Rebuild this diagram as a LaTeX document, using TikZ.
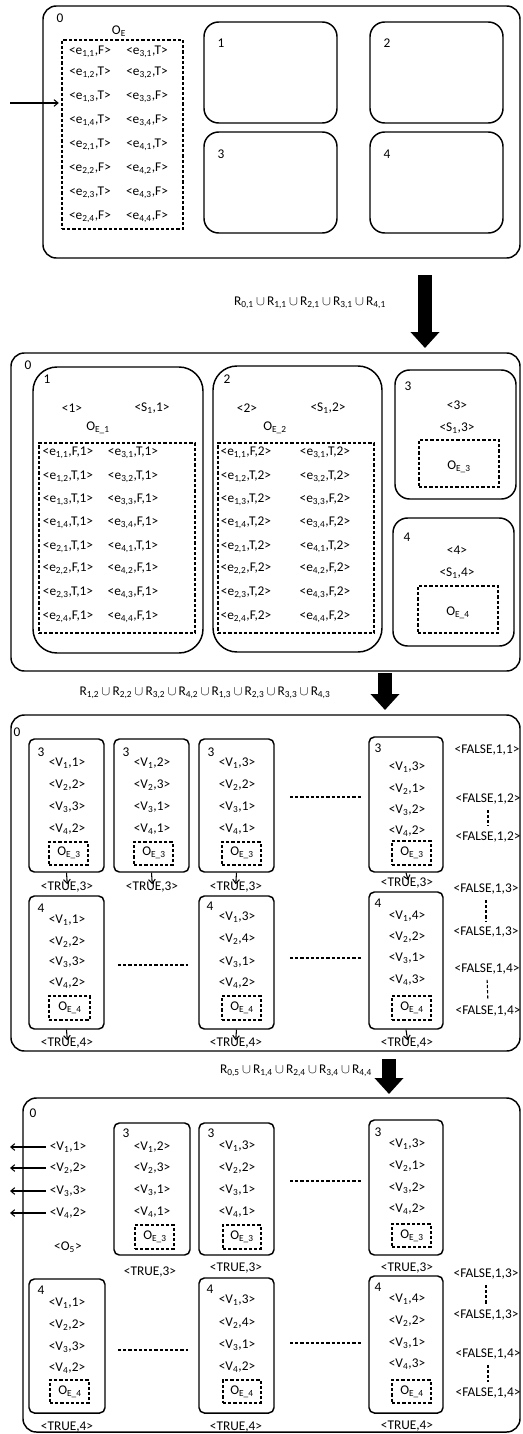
\documentclass[tikz,border=0pt]{standalone}
\usepackage{fontspec}
\setmainfont{Carlito}
\usetikzlibrary{fit,arrows.meta}

\begin{document}
\begin{tikzpicture}[x=0.75pt, y=-0.75pt,
  every node/.style={font=\fontsize{10}{12}\selectfont, inner sep=1pt},
  panelbox/.style={draw, line width=1.1pt, rounded corners=10pt, inner sep=0pt},
  subbox/.style={draw, line width=1.1pt, rounded corners=11pt, inner sep=0pt},
  vbox/.style={draw, line width=1.1pt, rounded corners=4pt, inner sep=0pt},
  obox/.style={draw, line width=0.8pt, dash pattern=on 2.4pt off 1.5pt, inner sep=0pt},
  dashline/.style={line width=0.8pt, dash pattern=on 2.4pt off 1.5pt},
  fatarrow/.style={line width=10pt, -{Triangle[width=21pt,length=12pt]}},
  smallarrow/.style={line width=0.8pt, -{Straight Barb[length=3pt,width=5pt]}}]

    \useasboundingbox (0,0) rectangle (522,1434);

    % panel 0 : start
    \node[panelbox, fit={(43,6) (520,258)}] (a0) {};
    \node (a0n) at (60,18) {0};
    \node (aoe) at (119,31) {O\textsubscript{E}};
    \node[obox, fit={(62,40) (183,229)}] (aoeb) {};
    \node (al1) at (90,52) {<e\textsubscript{1,1},F>};
    \node (al2) at (90,73) {<e\textsubscript{1,2},T>};
    \node (al3) at (90,97) {<e\textsubscript{1,3},T>};
    \node (al4) at (90,121) {<e\textsubscript{1,4},T>};
    \node (al5) at (90,145) {<e\textsubscript{2,1},T>};
    \node (al6) at (90,169) {<e\textsubscript{2,2},F>};
    \node (al7) at (90,193) {<e\textsubscript{2,3},T>};
    \node (al8) at (90,217) {<e\textsubscript{2,4},F>};
    \node (ar1) at (147,52) {<e\textsubscript{3,1},T>};
    \node (ar2) at (147,73) {<e\textsubscript{3,2},T>};
    \node (ar3) at (147,97) {<e\textsubscript{3,3},F>};
    \node (ar4) at (147,121) {<e\textsubscript{3,4},F>};
    \node (ar5) at (147,145) {<e\textsubscript{4,1},T>};
    \node (ar6) at (147,169) {<e\textsubscript{4,2},F>};
    \node (ar7) at (147,193) {<e\textsubscript{4,3},F>};
    \node (ar8) at (147,217) {<e\textsubscript{4,4},F>};
    \coordinate (ain) at (10,103);
    \draw[smallarrow, shorten >=2pt] (ain) -- (aoeb.west |- ain);

    \node[subbox, fit={(204,22) (337,123)}] (as1) {};
    \node[subbox, fit={(370,22) (503,123)}] (as2) {};
    \node[subbox, fit={(204,132) (337,233)}] (as3) {};
    \node[subbox, fit={(370,132) (503,233)}] (as4) {};
    \node (as1n) at (221,43) {1};
    \node (as2n) at (387,43) {2};
    \node (as3n) at (221,154) {3};
    \node (as4n) at (387,154) {4};

    \coordinate (f1s) at (425,275);
    \coordinate (f1e) at (425,348);
    \draw[fatarrow] (f1s) -- (f1e);
    \node (r1) at (310,303) {R\textsubscript{0,1}\,$\cup$\,R\textsubscript{1,1}\,$\cup$\,R\textsubscript{2,1}\,$\cup$\,R\textsubscript{3,1}\,$\cup$\,R\textsubscript{4,1}};

    % panel 1 : copies
    \node[panelbox, fit={(11,353) (520,671)}] (b0) {};
    \node (b0n) at (28,365) {0};

    \node[subbox, rounded corners=18pt, fit={(33,367) (203,653)}] (b1) {};
    \node (b1n) at (47,379) {1};
    \node (b1p) at (72,408) {<1>};
    \node (b1s) at (152,408) {<S\textsubscript{1},1>};
    \node (b1oe) at (98,428) {O\textsubscript{E\_1}};
    \node[obox, fit={(39,443) (195,633)}] (b1ob) {};
    \node (b1l1) at (68,453) {<e\textsubscript{1,1},F,1>};
    \node (b1l2) at (68,477) {<e\textsubscript{1,2},T,1>};
    \node (b1l3) at (68,500) {<e\textsubscript{1,3},T,1>};
    \node (b1l4) at (68,523) {<e\textsubscript{1,4},T,1>};
    \node (b1l5) at (68,547) {<e\textsubscript{2,1},T,1>};
    \node (b1l6) at (68,569) {<e\textsubscript{2,2},F,1>};
    \node (b1l7) at (68,593) {<e\textsubscript{2,3},T,1>};
    \node (b1l8) at (68,617) {<e\textsubscript{2,4},F,1>};
    \node (b1r1) at (133,453) {<e\textsubscript{3,1},T,1>};
    \node (b1r2) at (133,477) {<e\textsubscript{3,2},T,1>};
    \node (b1r3) at (133,500) {<e\textsubscript{3,3},F,1>};
    \node (b1r4) at (133,523) {<e\textsubscript{3,4},F,1>};
    \node (b1r5) at (133,547) {<e\textsubscript{4,1},T,1>};
    \node (b1r6) at (133,569) {<e\textsubscript{4,2},F,1>};
    \node (b1r7) at (133,593) {<e\textsubscript{4,3},F,1>};
    \node (b1r8) at (133,617) {<e\textsubscript{4,4},F,1>};

    \node[subbox, rounded corners=18pt, fit={(213,366) (382,652)}] (b2) {};
    \node (b2n) at (227,379) {2};
    \node (b2p) at (247,408) {<2>};
    \node (b2s) at (328,408) {<S\textsubscript{1},2>};
    \node (b2oe) at (275,428) {O\textsubscript{E\_2}};
    \node[obox, fit={(218,443) (374,633)}] (b2ob) {};
    \node (b2l1) at (246,453) {<e\textsubscript{1,1},F,2>};
    \node (b2l2) at (246,477) {<e\textsubscript{1,2},T,2>};
    \node (b2l3) at (246,500) {<e\textsubscript{1,3},T,2>};
    \node (b2l4) at (246,523) {<e\textsubscript{1,4},T,2>};
    \node (b2l5) at (246,547) {<e\textsubscript{2,1},T,2>};
    \node (b2l6) at (246,569) {<e\textsubscript{2,2},F,2>};
    \node (b2l7) at (246,593) {<e\textsubscript{2,3},T,2>};
    \node (b2l8) at (246,617) {<e\textsubscript{2,4},F,2>};
    \node (b2r1) at (325,453) {<e\textsubscript{3,1},T,2>};
    \node (b2r2) at (325,477) {<e\textsubscript{3,2},T,2>};
    \node (b2r3) at (325,500) {<e\textsubscript{3,3},F,2>};
    \node (b2r4) at (325,523) {<e\textsubscript{3,4},F,2>};
    \node (b2r5) at (325,547) {<e\textsubscript{4,1},T,2>};
    \node (b2r6) at (325,569) {<e\textsubscript{4,2},F,2>};
    \node (b2r7) at (325,593) {<e\textsubscript{4,3},F,2>};
    \node (b2r8) at (325,617) {<e\textsubscript{4,4},F,2>};

    \node[subbox, fit={(395,370) (516,499)}] (b3) {};
    \node (b3n) at (408,386) {3};
    \node (b3p) at (457,405) {<3>};
    \node (b3s) at (457,428) {<S\textsubscript{1},3>};
    \node[obox, fit={(419,440) (499,487)}] (b3ob) {};
    \node (b3oe) at (459,467) {O\textsubscript{E\_3}};

    \node[subbox, fit={(393,518) (514,646)}] (b4) {};
    \node (b4n) at (407,537) {4};
    \node (b4p) at (457,550) {<4>};
    \node (b4s) at (457,573) {<S\textsubscript{1},4>};
    \node[obox, fit={(418,586) (498,633)}] (b4ob) {};
    \node (b4oe) at (458,613) {O\textsubscript{E\_4}};

    \coordinate (f2s) at (385,673);
    \coordinate (f2e) at (385,710);
    \draw[fatarrow] (f2s) -- (f2e);
    \node (r2) at (205,693) {R\textsubscript{1,2}\,$\cup$\,R\textsubscript{2,2}\,$\cup$\,R\textsubscript{3,2}\,$\cup$\,R\textsubscript{4,2}\,$\cup$\,R\textsubscript{1,3}\,$\cup$\,R\textsubscript{2,3}\,$\cup$\,R\textsubscript{3,3}\,$\cup$\,R\textsubscript{4,3}};

    % panel 2 : assignments
    \node[panelbox, fit={(11,715) (520,1051)}] (c0) {};
    \node (c0n) at (17,732) {0};

    \node[vbox, fit={(29,739) (104,872)}] (cA) {};
    \node (cAn) at (41,752) {3};
    \node (cA1) at (67,763) {<V\textsubscript{1},1>};
    \node (cA2) at (67,785) {<V\textsubscript{2},2>};
    \node (cA3) at (67,807) {<V\textsubscript{3},3>};
    \node (cA4) at (67,829) {<V\textsubscript{4},2>};
    \node[obox, fit={(49,842) (88,865)}] (cAo) {};
    \node (cAoe) at (69,853) {O\textsubscript{E\_3}};
    \node (cAt) at (67,887) {<TRUE,3>};

    \node[vbox, fit={(114,739) (189,872)}] (cB) {};
    \node (cBn) at (126,752) {3};
    \node (cB1) at (152,763) {<V\textsubscript{1},2>};
    \node (cB2) at (152,785) {<V\textsubscript{2},3>};
    \node (cB3) at (152,807) {<V\textsubscript{3},1>};
    \node (cB4) at (152,829) {<V\textsubscript{4},1>};
    \node[obox, fit={(134,842) (173,865)}] (cBo) {};
    \node (cBoe) at (154,853) {O\textsubscript{E\_3}};
    \node (cBt) at (152,887) {<TRUE,3>};

    \node[vbox, fit={(199,739) (274,872)}] (cC) {};
    \node (cCn) at (211,752) {3};
    \node (cC1) at (237,763) {<V\textsubscript{1},3>};
    \node (cC2) at (237,785) {<V\textsubscript{2},2>};
    \node (cC3) at (237,807) {<V\textsubscript{3},1>};
    \node (cC4) at (237,829) {<V\textsubscript{4},1>};
    \node[obox, fit={(222,842) (261,865)}] (cCo) {};
    \node (cCoe) at (242,853) {O\textsubscript{E\_3}};
    \node (cCt) at (236,887) {<TRUE,3>};

    \node[vbox, fit={(369,737) (443,872)}] (cD) {};
    \node (cDn) at (378,748) {3};
    \node (cD1) at (407,767) {<V\textsubscript{1},3>};
    \node (cD2) at (407,789) {<V\textsubscript{2},1>};
    \node (cD3) at (407,810) {<V\textsubscript{3},2>};
    \node (cD4) at (407,831) {<V\textsubscript{4},2>};
    \node[obox, fit={(392,841) (431,865)}] (cDo) {};
    \node (cDoe) at (412,853) {O\textsubscript{E\_3}};
    \node (cDt) at (407,883) {<TRUE,3>};

    \node[vbox, fit={(29,896) (104,1029)}] (cE) {};
    \node (cEn) at (41,908) {4};
    \node (cE1) at (67,920) {<V\textsubscript{1},1>};
    \node (cE2) at (67,942) {<V\textsubscript{2},2>};
    \node (cE3) at (67,962) {<V\textsubscript{3},3>};
    \node (cE4) at (67,983) {<V\textsubscript{4},2>};
    \node[obox, fit={(49,996) (90,1020)}] (cEo) {};
    \node (cEoe) at (70,1008) {O\textsubscript{E\_4}};
    \node (cEt) at (67,1043) {<TRUE,4>};

    \node[vbox, fit={(199,896) (274,1029)}] (cF) {};
    \node (cFn) at (210,906) {4};
    \node (cF1) at (237,917) {<V\textsubscript{1},3>};
    \node (cF2) at (237,939) {<V\textsubscript{2},4>};
    \node (cF3) at (237,962) {<V\textsubscript{3},1>};
    \node (cF4) at (237,983) {<V\textsubscript{4},2>};
    \node[obox, fit={(222,996) (261,1020)}] (cFo) {};
    \node (cFoe) at (242,1008) {O\textsubscript{E\_4}};
    \node (cFt) at (236,1043) {<TRUE,4>};

    \node[vbox, fit={(369,892) (443,1029)}] (cG) {};
    \node (cGn) at (378,903) {4};
    \node (cG1) at (407,916) {<V\textsubscript{1},4>};
    \node (cG2) at (407,937) {<V\textsubscript{2},2>};
    \node (cG3) at (407,958) {<V\textsubscript{3},1>};
    \node (cG4) at (407,980) {<V\textsubscript{4},3>};
    \node[obox, fit={(392,996) (431,1020)}] (cGo) {};
    \node (cGoe) at (412,1008) {O\textsubscript{E\_4}};
    \node (cGt) at (407,1043) {<TRUE,4>};

    \draw[smallarrow, shorten >=-3pt] (cA.south) -- (cAt.north);
    \draw[smallarrow, shorten >=-3pt] (cB.south) -- (cBt.north);
    \draw[smallarrow, shorten >=-3pt] (cC.south) -- (cCt.north);
    \draw[smallarrow, shorten >=-3pt] (cD.south) -- (cDt.north);
    \draw[smallarrow, shorten >=-3pt] (cE.south) -- (cEt.north);
    \draw[smallarrow, shorten >=-3pt] (cF.south) -- (cFt.north);
    \draw[smallarrow, shorten >=-3pt] (cG.south) -- (cGt.north);

    \draw[dashline] (290,797) -- (362,797);
    \draw[dashline] (118,965) -- (188,965);
    \draw[dashline] (290,958) -- (362,958);

    \node (cf1) at (487,750) {<FALSE,1,1>};
    \node (cf2) at (488,799) {<FALSE,1,2>};
    \node (cf3) at (488,837) {<FALSE,1,2>};
    \node (cf4) at (486,889) {<FALSE,1,3>};
    \node (cf5) at (486,932) {<FALSE,1,3>};
    \node (cf6) at (487,969) {<FALSE,1,4>};
    \node (cf7) at (488,1011) {<FALSE,1,4>};
    \draw[dashline, shorten <=3pt, shorten >=3pt] (cf2.south) -- (cf3.north);
    \draw[dashline, shorten <=3pt, shorten >=3pt] (cf4.south) -- (cf5.north);
    \draw[dashline, shorten <=3pt, shorten >=3pt] (cf6.south) -- (cf7.north);

    \coordinate (f3s) at (389,1059);
    \coordinate (f3e) at (389,1094);
    \draw[fatarrow] (f3s) -- (f3e);
    \node (r3) at (296,1071) {R\textsubscript{0,5}\,$\cup$\,R\textsubscript{1,4}\,$\cup$\,R\textsubscript{2,4}\,$\cup$\,R\textsubscript{3,4}\,$\cup$\,R\textsubscript{4,4}};

    % panel 3 : result
    \node[panelbox, fit={(23,1098) (520,1432)}] (d0) {};
    \node (d0n) at (33,1113) {0};
    \node (dv1) at (68,1147) {<V\textsubscript{1},1>};
    \node (dv2) at (68,1168) {<V\textsubscript{2},2>};
    \node (dv3) at (68,1191) {<V\textsubscript{3},3>};
    \node (dv4) at (68,1213) {<V\textsubscript{4},2>};
    \node (dv5) at (68,1247) {<O\textsubscript{5}>};
    \coordinate (dx1) at (10,1147);
    \coordinate (dx2) at (10,1168);
    \coordinate (dx3) at (10,1191);
    \coordinate (dx4) at (10,1213);
    \draw[smallarrow, shorten <=2pt] (dv1.west) -- (dx1);
    \draw[smallarrow, shorten <=2pt] (dv2.west) -- (dx2);
    \draw[smallarrow, shorten <=2pt] (dv3.west) -- (dx3);
    \draw[smallarrow, shorten <=2pt] (dv4.west) -- (dx4);

    \node[vbox, fit={(114,1123) (190,1255)}] (dB) {};
    \node (dBn) at (126,1133) {3};
    \node (dB1) at (152,1147) {<V\textsubscript{1},2>};
    \node (dB2) at (152,1168) {<V\textsubscript{2},3>};
    \node (dB3) at (152,1190) {<V\textsubscript{3},1>};
    \node (dB4) at (152,1212) {<V\textsubscript{4},1>};
    \node[obox, fit={(135,1225) (174,1249)}] (dBo) {};
    \node (dBoe) at (155,1237) {O\textsubscript{E\_3}};
    \node (dBt) at (150,1272) {<TRUE,3>};

    \node[vbox, fit={(199,1123) (274,1255)}] (dC) {};
    \node (dCn) at (211,1133) {3};
    \node (dC1) at (237,1146) {<V\textsubscript{1},3>};
    \node (dC2) at (237,1168) {<V\textsubscript{2},2>};
    \node (dC3) at (237,1190) {<V\textsubscript{3},1>};
    \node (dC4) at (237,1212) {<V\textsubscript{4},1>};
    \node[obox, fit={(223,1225) (261,1249)}] (dCo) {};
    \node (dCoe) at (242,1237) {O\textsubscript{E\_3}};
    \node (dCt) at (236,1268) {<TRUE,3>};

    \node[vbox, fit={(369,1120) (443,1255)}] (dD) {};
    \node (dDn) at (378,1132) {3};
    \node (dD1) at (407,1144) {<V\textsubscript{1},3>};
    \node (dD2) at (407,1166) {<V\textsubscript{2},1>};
    \node (dD3) at (407,1188) {<V\textsubscript{3},2>};
    \node (dD4) at (407,1209) {<V\textsubscript{4},2>};
    \node[obox, fit={(392,1224) (431,1247)}] (dDo) {};
    \node (dDoe) at (412,1236) {O\textsubscript{E\_3}};
    \node (dDt) at (407,1268) {<TRUE,3>};

    \node[vbox, fit={(29,1279) (105,1413)}] (dE) {};
    \node (dEn) at (41,1290) {4};
    \node (dE1) at (67,1303) {<V\textsubscript{1},1>};
    \node (dE2) at (67,1325) {<V\textsubscript{2},2>};
    \node (dE3) at (67,1347) {<V\textsubscript{3},3>};
    \node (dE4) at (67,1368) {<V\textsubscript{4},2>};
    \node[obox, fit={(50,1380) (89,1403)}] (dEo) {};
    \node (dEoe) at (70,1392) {O\textsubscript{E\_4}};
    \node (dEt) at (67,1427) {<TRUE,4>};

    \node[vbox, fit={(199,1278) (274,1413)}] (dF) {};
    \node (dFn) at (210,1289) {4};
    \node (dF1) at (237,1300) {<V\textsubscript{1},3>};
    \node (dF2) at (237,1323) {<V\textsubscript{2},4>};
    \node (dF3) at (237,1345) {<V\textsubscript{3},1>};
    \node (dF4) at (237,1367) {<V\textsubscript{4},2>};
    \node[obox, fit={(223,1380) (261,1403)}] (dFo) {};
    \node (dFoe) at (242,1392) {O\textsubscript{E\_4}};
    \node (dFt) at (236,1427) {<TRUE,4>};

    \node[vbox, fit={(369,1276) (443,1413)}] (dG) {};
    \node (dGn) at (378,1287) {4};
    \node (dG1) at (407,1299) {<V\textsubscript{1},4>};
    \node (dG2) at (407,1321) {<V\textsubscript{2},2>};
    \node (dG3) at (407,1343) {<V\textsubscript{3},1>};
    \node (dG4) at (407,1364) {<V\textsubscript{4},3>};
    \node[obox, fit={(392,1380) (431,1403)}] (dGo) {};
    \node (dGoe) at (412,1392) {O\textsubscript{E\_4}};
    \node (dGt) at (407,1426) {<TRUE,4>};

    \draw[dashline] (290,1181) -- (362,1181);
    \draw[dashline] (118,1350) -- (188,1350);
    \draw[dashline] (290,1343) -- (362,1343);

    \node (df1) at (486,1274) {<FALSE,1,3>};
    \node (df2) at (486,1315) {<FALSE,1,3>};
    \node (df3) at (488,1354) {<FALSE,1,4>};
    \node (df4) at (488,1393) {<FALSE,1,4>};
    \draw[dashline, shorten <=3pt, shorten >=3pt] (df1.south) -- (df2.north);
    \draw[dashline, shorten <=3pt, shorten >=3pt] (df3.south) -- (df4.north);

\end{tikzpicture}
\end{document}
